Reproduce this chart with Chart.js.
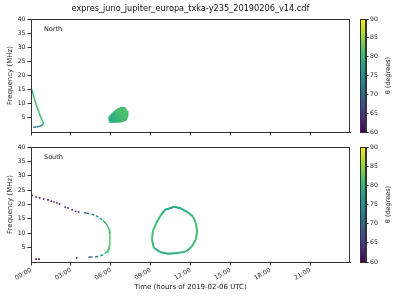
<!DOCTYPE html>
<html>
<head>
<meta charset="utf-8">
<script src="https://cdn.jsdelivr.net/npm/chart.js@4/dist/chart.umd.min.js"></script>
<style>
  html, body { margin: 0; padding: 0; background: #fff; width: 400px; height: 300px; overflow: hidden; }
  canvas { position: absolute; }
</style>
</head>
<body>
<canvas id="north" width="381" height="140" style="left:0;top:0"></canvas>
<canvas id="south" width="381" height="160" style="left:0;top:140px"></canvas>
<canvas id="cbNorth" width="48" height="140" style="left:352px;top:0"></canvas>
<canvas id="cbSouth" width="48" height="160" style="left:352px;top:140px"></canvas>
<script>
// ---- data ----
const hourTicks = [0, 3, 6, 9, 12, 15, 18, 21];
const freqTicks = [5, 10, 15, 20, 25, 30, 35, 40];
const thetaTicks = [60, 65, 70, 75, 80, 85, 90];

// North: arc near 00:00
const northArcTime  = [0.02, 0.15, 0.3, 0.5, 0.7, 0.88, 0.95, 0.85, 0.65, 0.4, 0.08];
const northArcFreq  = [15.6, 13.5, 11.0, 8.3, 5.7, 3.7, 3.1, 2.4, 2.0, 1.8, 1.6];
const northArcTheta = [75, 80, 81, 81, 81, 81, 80, 76, 73, 71, 70];

// North: filled blob around 06:00-07:00
const northBlobTime = [5.85, 6.15, 6.48, 6.78, 7.08, 7.25, 7.28, 7.15, 6.78, 5.9, 5.85];
const northBlobFreq = [5.3, 6.9, 8.1, 8.8, 8.6, 7.3, 5.5, 4.1, 3.5, 3.4, 5.3];

// South: dotted upper branch + low dots
const southDotTime  = [0.08, 0.38, 0.65, 0.95, 1.28, 1.53, 1.73, 1.95, 2.15, 2.58, 2.78, 3.1, 3.35, 3.58, 0.38, 0.6, 3.43];
const southDotFreq  = [23.1, 22.6, 22.3, 21.9, 21.6, 21.2, 20.9, 20.5, 20.2, 19.1, 18.8, 18.2, 17.6, 17.4, 1.0, 1.0, 1.4];
const southDotTheta = [60, 60, 60, 60, 60, 60, 61, 61, 61, 61, 61, 61, 62, 62, 60, 60, 61];

// South: arc 04:00-06:00
const southArcTime  = [4.0, 4.15, 4.55, 4.88, 5.18, 5.43, 5.63, 5.78, 5.88, 5.93, 5.93, 5.93, 5.88, 5.73, 5.43, 5.05, 4.55, 4.2];
const southArcFreq  = [17.1, 17.0, 16.7, 16.1, 15.3, 14.4, 13.5, 12.4, 11.2, 9.5, 7.8, 6.0, 4.9, 3.5, 2.5, 1.9, 1.7, 1.6];
const southArcTheta = [66, 67, 71, 74, 77, 79, 80, 81, 81, 82, 82, 82, 81, 80, 78, 75, 70, 67];

// South: ring 09:00-12:30
const southRingTime  = [10.8, 11.3, 11.8, 12.2, 12.4, 12.5, 12.4, 12.1, 11.7, 11.05, 10.3, 9.7, 9.25, 9.1, 9.17, 9.43, 9.8, 10.1, 10.8];
const southRingFreq  = [19.2, 18.6, 17.3, 15.7, 13.6, 10.7, 7.8, 5.4, 3.7, 3.1, 2.9, 3.5, 4.9, 7.8, 10.7, 13.6, 16.5, 18.2, 19.2];
const southRingTheta = [77, 78, 79, 80, 81, 81, 81, 80, 80, 79, 78, 79, 80, 81, 81, 81, 80, 78, 77];

// ---- colour map ----
const viridisStops = ['#440154', '#482475', '#414487', '#355f8d', '#2a788e', '#21918c',
                      '#22a884', '#44bf70', '#7ad151', '#bddf26', '#fde725'];
function hex(c) { return [1, 3, 5].map(i => parseInt(c.substr(i, 2), 16)); }
function viridis(theta) {
  let u = Math.min(1, Math.max(0, (theta - 60) / 30)) * 10;
  const i = Math.min(9, Math.floor(u)), f = u - i;
  const a = hex(viridisStops[i]), b = hex(viridisStops[i + 1]);
  return 'rgb(' + a.map((v, k) => Math.round(v + (b[k] - v) * f)).join(',') + ')';
}

const axisColor = '#333';
Chart.defaults.font.family = '"DejaVu Sans", sans-serif';
Chart.defaults.color = '#222';
Chart.defaults.animation = false;

function pts(xs, ys) { return xs.map((x, i) => ({ x: x, y: ys[i] })); }

// frame on all four sides, plus a panel label
const boxPlugin = {
  id: 'box',
  afterDraw(chart, args, opts) {
    const { ctx, chartArea: a } = chart;
    ctx.save();
    ctx.strokeStyle = axisColor;
    ctx.lineWidth = 1;
    ctx.strokeRect(Math.round(a.left) + 0.5, Math.round(a.top) + 0.5,
                   Math.round(a.right - a.left) - 1, Math.round(a.bottom - a.top));
    if (opts.label) {
      ctx.fillStyle = '#222';
      ctx.font = '6.5px "DejaVu Sans"';
      ctx.textBaseline = 'middle';
      ctx.fillText(opts.label, a.left + 13, a.top + 10.5);
    }
    ctx.restore();
  }
};

function makeScales(bottom) {
  return {
    x: {
      type: 'linear', min: 0, max: 24,
      afterBuildTicks: s => { s.ticks = hourTicks.map(v => ({ value: v })); },
      afterFit: s => { s.height = bottom ? 38 : 8; },
      grid: { drawOnChartArea: false, tickLength: 3.5, color: axisColor },
      border: { color: axisColor },
      ticks: {
        display: bottom, minRotation: 30, maxRotation: 30, padding: 1,
        font: { size: 6.2 },
        callback: v => String(v).padStart(2, '0') + ':00'
      },
      title: {
        display: bottom, text: 'Time (hours of 2019-02-06 UTC)',
        font: { size: 7 }, padding: { top: 0, bottom: 8.8 }
      }
    },
    y: {
      type: 'linear', min: 0, max: 40,
      afterBuildTicks: s => { s.ticks = freqTicks.map(v => ({ value: v })); },
      afterFit: s => { s.width = 31; },
      grid: { drawOnChartArea: false, tickLength: 3.5, color: axisColor },
      border: { color: axisColor },
      ticks: { padding: 2, font: { size: 6.2 } },
      title: { display: true, text: 'Frequency (MHz)', font: { size: 7 }, padding: { top: 6, bottom: 0 } }
    },
    // empty spacer on the right so the title centres over the plot
    spacer: {
      type: 'linear', position: 'right', min: 0, max: 1,
      afterFit: s => { s.width = 31; },
      grid: { display: false },
      border: { display: false },
      ticks: { display: false }
    }
  };
}

function lineSet(xs, ys, th, dashFn, width) {
  return {
    data: pts(xs, ys),
    showLine: true,
    pointRadius: 0,
    borderWidth: width || 1.5,
    borderColor: viridis(th[0]),
    segment: {
      borderColor: c => viridis((th[c.p0DataIndex] + th[c.p1DataIndex]) / 2),
      borderDash: c => dashFn && dashFn(c.p0DataIndex) ? [3, 2.5] : undefined
    }
  };
}

// ---- North panel ----
new Chart(document.getElementById('north'), {
  type: 'scatter',
  data: {
    datasets: [
      lineSet(northArcTime, northArcFreq, northArcTheta, i => i >= 7, 1.5),
      {
        data: pts(northBlobTime, northBlobFreq),
        showLine: true,
        pointRadius: 0,
        borderWidth: 1,
        borderColor: viridis(80),
        fill: 'shape',
        backgroundColor: c => {
          const ch = c.chart;
          if (!ch.chartArea) return viridis(80);
          const sx = ch.scales.x, sy = ch.scales.y;
          const g = ch.ctx.createLinearGradient(sx.getPixelForValue(5.9), sy.getPixelForValue(3.4),
                                                sx.getPixelForValue(7.2), sy.getPixelForValue(8.8));
          g.addColorStop(0, viridis(78));
          g.addColorStop(1, viridis(82.5));
          return g;
        }
      }
    ]
  },
  options: {
    responsive: false,
    layout: { padding: 0 },
    scales: makeScales(false),
    plugins: {
      legend: { display: false },
      tooltip: { enabled: false },
      title: {
        display: true,
        text: 'expres_juno_jupiter_europa_txka-y235_20190206_v14.cdf',
        color: '#111',
        font: { size: 8.2, weight: 'normal', lineHeight: 1 },
        padding: { top: 5, bottom: 5.8 }
      },
      box: { label: 'North' }
    }
  },
  plugins: [boxPlugin]
});

// ---- South panel ----
new Chart(document.getElementById('south'), {
  type: 'scatter',
  data: {
    datasets: [
      {
        data: pts(southDotTime, southDotFreq),
        pointStyle: 'rect',
        pointRadius: 1.1,
        borderWidth: 0,
        backgroundColor: c => viridis(southDotTheta[c.dataIndex])
      },
      lineSet(southArcTime, southArcFreq, southArcTheta, i => i <= 4 || i >= 13, 1.5),
      lineSet(southRingTime, southRingFreq, southRingTheta, null, 2)
    ]
  },
  options: {
    responsive: false,
    layout: { padding: { left: 0, right: 0, top: 7, bottom: 0 } },
    scales: makeScales(true),
    plugins: {
      legend: { display: false },
      tooltip: { enabled: false },
      box: { label: 'South' }
    }
  },
  plugins: [boxPlugin]
});

// ---- colour bars ----
const cbLabelPlugin = {
  id: 'cbLabel',
  afterDraw(chart) {
    const { ctx, chartArea: a } = chart;
    ctx.save();
    ctx.translate(36, (a.top + a.bottom) / 2);
    ctx.rotate(-Math.PI / 2);
    ctx.fillStyle = '#222';
    ctx.font = '6.5px "DejaVu Sans"';
    ctx.textAlign = 'center';
    ctx.textBaseline = 'middle';
    ctx.fillText('θ (degrees)', 0, 0);
    ctx.restore();
  }
};

function colorBar(id, top, bottom) {
  new Chart(document.getElementById(id), {
    type: 'bar',
    data: {
      labels: ['θ'],
      datasets: [{
        data: [[60, 90]],
        barPercentage: 1,
        categoryPercentage: 1,
        borderWidth: 0,
        backgroundColor: c => {
          const ch = c.chart, a = ch.chartArea;
          if (!a) return viridis(75);
          const g = ch.ctx.createLinearGradient(0, a.bottom, 0, a.top);
          viridisStops.forEach((col, i) => g.addColorStop(i / 10, col));
          return g;
        }
      }]
    },
    options: {
      responsive: false,
      layout: { padding: { left: 8, right: 0, top: top, bottom: bottom } },
      scales: {
        x: { display: false },
        y: {
          position: 'right', min: 60, max: 90,
          afterBuildTicks: s => { s.ticks = thetaTicks.map(v => ({ value: v })); },
          afterFit: s => { s.width = 34; },
          grid: { drawOnChartArea: false, tickLength: 2.5, color: axisColor },
          border: { color: axisColor },
          ticks: { padding: 1.5, font: { size: 6.2 } }
        }
      },
      plugins: { legend: { display: false }, tooltip: { enabled: false }, box: {} }
    },
    plugins: [boxPlugin, cbLabelPlugin]
  });
}
colorBar('cbNorth', 19, 8);
colorBar('cbSouth', 7, 38);
</script>
</body>
</html>
